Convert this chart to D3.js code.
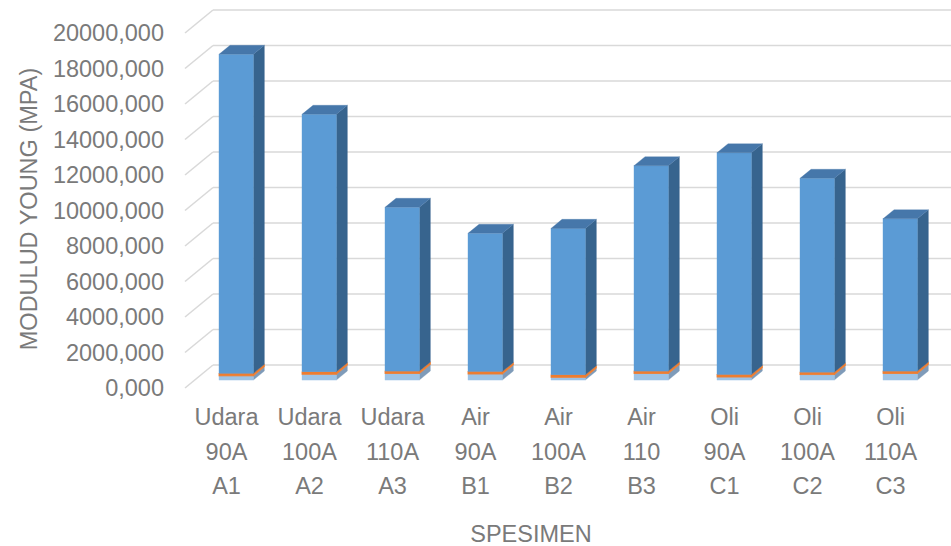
<!DOCTYPE html>
<html>
<head>
<meta charset="utf-8">
<script src="https://cdn.jsdelivr.net/npm/d3@7"></script>
<style>
  html, body { margin: 0; padding: 0; background: #ffffff; }
  svg { display: block; }
  text { font-family: "Liberation Sans", Arial, sans-serif; fill: #7a7a7a; }
</style>
</head>
<body>
<svg id="chart" width="951" height="546"></svg>
<script>
// ---- data ----
const categories = ["A1", "A2", "A3", "B1", "B2", "B3", "C1", "C2", "C3"];
const labelLine1 = ["Udara", "Udara", "Udara", "Air", "Air", "Air", "Oli", "Oli", "Oli"];
const labelLine2 = ["90A", "100A", "110A", "90A", "100A", "110", "90A", "100A", "110A"];
const labelLine3 = ["A1", "A2", "A3", "B1", "B2", "B3", "C1", "C2", "C3"];
// stacked series (bottom -> top)
const seriesLower = [235, 325, 365, 340, 155, 365, 170, 305, 365];
const seriesMiddle = [140, 140, 140, 140, 140, 140, 140, 140, 140];
const seriesUpper = [17975, 14505, 9225, 7785, 8250, 11570, 12495, 10920, 8580];
const yTicks = [0, 2000, 4000, 6000, 8000, 10000, 12000, 14000, 16000, 18000, 20000];
const yTitle = "MODULUD YOUNG (MPA)";
const xTitle = "SPESIMEN";

// ---- layout ----
const svg = d3.select("#chart");
const depthX = 28, depthY = -23;          // full floor depth offset
const barF0 = 0.345, barF1 = 0.74;        // bar depth span (fraction of floor depth)

const x = d3.scaleBand().domain(categories).range([185, 932]).paddingInner(0.586).paddingOuter(0.293);
const y = d3.scaleLinear().domain([0, 20000]).range([388, 33]);
const fmt = v => v.toFixed(3).replace(".", ",");

// gridlines: side diagonal + back wall
const grid = svg.append("g");
yTicks.forEach(t => {
  const yf = y(t);
  grid.append("line")
    .attr("x1", 185).attr("y1", yf)
    .attr("x2", 185 + depthX).attr("y2", yf + depthY)
    .attr("stroke", "#d9d9d9").attr("stroke-width", 1.6);
  grid.append("line")
    .attr("x1", 185 + depthX).attr("y1", yf + depthY)
    .attr("x2", 960).attr("y2", yf + depthY)
    .attr("stroke", "#d9d9d9").attr("stroke-width", 1.6);
});

// y tick labels
svg.append("g").selectAll("text").data(yTicks).join("text")
  .attr("x", 164).attr("y", d => y(d))
  .attr("dy", "0.35em")
  .attr("text-anchor", "end")
  .attr("font-size", 23.5)
  .text(d => fmt(d));

// y title
svg.append("text")
  .attr("transform", "translate(37,209) rotate(-90)")
  .attr("text-anchor", "middle")
  .attr("font-size", 23.5)
  .text(yTitle);

// ---- bars ----
const stacks = categories.map((c, i) => {
  const segs = [
    { v: seriesLower[i], front: "#9dc3e6", side: "#7f9bb9", top: "#8fb3d6" },
    { v: seriesMiddle[i], front: "#ed7d31", side: "#ed7d31", top: "#ed7d31" },
    { v: seriesUpper[i], front: "#5b9bd5", side: "#37648e", top: "#4677aa" }
  ];
  let acc = 0;
  segs.forEach(s => { s.y0 = acc; acc += s.v; s.y1 = acc; });
  return { c, segs };
});

const bw = x.bandwidth();
const dx0 = barF0 * depthX, dy0 = barF0 * depthY;
const bdx = (barF1 - barF0) * depthX, bdy = (barF1 - barF0) * depthY;

const barsG = svg.append("g");
stacks.forEach(st => {
  const g = barsG.append("g");
  const xl = x(st.c) + dx0;
  const xr = xl + bw;
  st.segs.forEach((s, k) => {
    const yb = y(s.y0) + dy0;
    const yt = y(s.y1) + dy0;
    // side face
    g.append("path")
      .attr("d", `M${xr},${yb} L${xr + bdx},${yb + bdy} L${xr + bdx},${yt + bdy} L${xr},${yt} Z`)
      .attr("fill", s.side)
      .attr("stroke", s.side).attr("stroke-width", k === 1 ? 0.8 : 0.3);
    // front face
    g.append("rect")
      .attr("x", xl).attr("y", yt)
      .attr("width", bw).attr("height", Math.max(0, yb - yt))
      .attr("fill", s.front)
      .attr("stroke", s.front).attr("stroke-width", k === 1 ? 0.8 : 0.3);
    // top face for the highest segment
    if (k === st.segs.length - 1) {
      g.append("path")
        .attr("d", `M${xl},${yt} L${xr},${yt} L${xr + bdx},${yt + bdy} L${xl + bdx},${yt + bdy} Z`)
        .attr("fill", s.top)
        .attr("stroke", s.top).attr("stroke-width", 0.3);
    }
  });
});

// ---- category labels ----
const lab = svg.append("g").attr("font-size", 23.5).attr("text-anchor", "middle");
[labelLine1, labelLine2, labelLine3].forEach((arr, r) => {
  lab.selectAll(null).data(arr).join("text")
    .attr("x", (d, i) => x(categories[i]) + bw / 2)
    .attr("y", 425 + r * 34.5)
    .text(d => d);
});

// x title
svg.append("text")
  .attr("x", 531).attr("y", 542)
  .attr("text-anchor", "middle")
  .attr("font-size", 23.5)
  .text(xTitle);
</script>
</body>
</html>
